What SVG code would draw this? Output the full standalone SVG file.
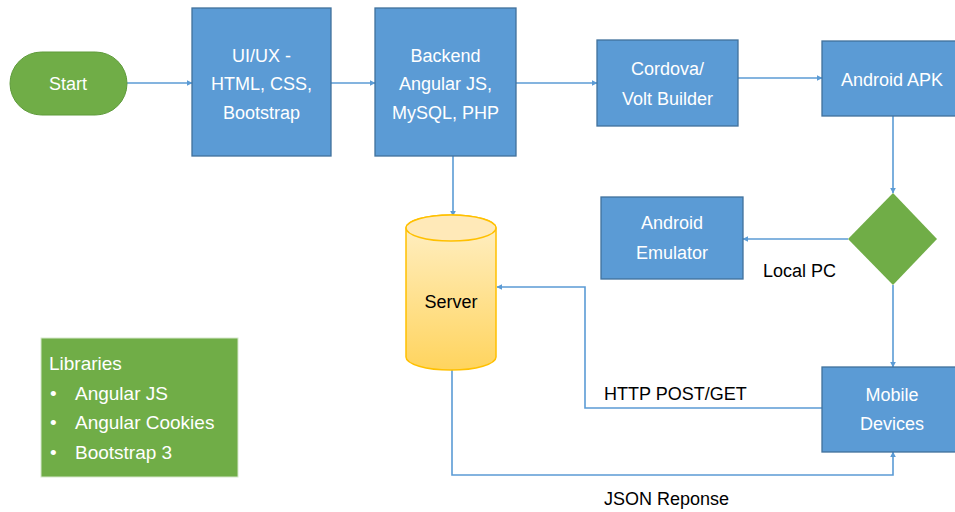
<svg xmlns="http://www.w3.org/2000/svg" width="955" height="512" viewBox="0 0 955 512">
<defs>
<marker id="ah" viewBox="0 0 10 10" refX="9" refY="5" markerWidth="6" markerHeight="6" markerUnits="userSpaceOnUse" orient="auto">
<path d="M0,0 L10,5 L0,10 z" fill="#5B9BD5"/>
</marker>
<linearGradient id="cyl" x1="0" y1="0" x2="0" y2="1">
<stop offset="0" stop-color="#FFF0C8"/>
<stop offset="1" stop-color="#FFD45E"/>
</linearGradient>
<style>
.box{fill:#5B9BD5;stroke:#41719C;stroke-width:1.3}
.wt{fill:#FFFFFF;font-family:"Liberation Sans",Arial,sans-serif;font-size:18px;text-anchor:middle}
.bt{fill:#000000;font-family:"Liberation Sans",Arial,sans-serif;font-size:18px}
.ln{fill:none;stroke:#5B9BD5;stroke-width:1.6;marker-end:url(#ah)}
</style>
</defs>
<rect width="955" height="512" fill="#FFFFFF"/>
<g id="connectors">
<path class="ln" d="M127,83 H192"/>
<path class="ln" d="M331,83 H375"/>
<path class="ln" d="M516,83 H597"/>
<path class="ln" d="M738,78 H822"/>
<path class="ln" d="M453,156 V216"/>
<path class="ln" d="M893,116 V193"/>
<path class="ln" d="M848,239 H743"/>
<path class="ln" d="M893,285 V367"/>
<path class="ln" d="M822,408 H585 V287 H497"/>
<path class="ln" d="M452,364 V475 H893 V452"/>
<text class="bt" x="763" y="277">Local PC</text>
<text class="bt" x="604" y="400">HTTP POST/GET</text>
<text class="bt" x="604" y="505">JSON Reponse</text>
</g>
<g id="start">
<rect x="10" y="52" width="117" height="63" rx="31.5" fill="#70AD47" stroke="#5E9B3A" stroke-width="1"/>
<text class="wt" x="68" y="90">Start</text>
</g>
<g id="uiux">
<rect class="box" x="192" y="8" width="139" height="148"/>
<text class="wt" x="261.5" y="62">UI/UX -</text>
<text class="wt" x="261.5" y="90">HTML, CSS,</text>
<text class="wt" x="261.5" y="119">Bootstrap</text>
</g>
<g id="backend">
<rect class="box" x="375" y="8" width="141" height="148"/>
<text class="wt" x="445.5" y="62">Backend</text>
<text class="wt" x="445.5" y="90">Angular JS,</text>
<text class="wt" x="445.5" y="119">MySQL, PHP</text>
</g>
<g id="cordova">
<rect class="box" x="597" y="40" width="141" height="86"/>
<text class="wt" x="667.5" y="75">Cordova/</text>
<text class="wt" x="667.5" y="105">Volt Builder</text>
</g>
<g id="apk">
<rect class="box" x="822" y="41" width="140" height="75"/>
<text class="wt" x="892" y="86">Android APK</text>
</g>
<g id="decision">
<path d="M893,193 L937,239 L893,285 L848,239 Z" fill="#70AD47"/>
</g>
<g id="emulator">
<rect class="box" x="601" y="197" width="142" height="82"/>
<text class="wt" x="672" y="229">Android</text>
<text class="wt" x="672" y="259">Emulator</text>
</g>
<g id="server">
<path d="M406,228 V357 A45,13 0 0 0 496,357 V228 A45,13 0 0 0 406,228 Z" fill="url(#cyl)" stroke="#FFC000" stroke-width="1.5"/>
<ellipse cx="451" cy="228" rx="45" ry="13" fill="#FFE9B8" stroke="#FFC000" stroke-width="1.5"/>
<text class="bt" x="451" y="308" text-anchor="middle">Server</text>
</g>
<g id="mobile">
<rect class="box" x="822" y="367" width="140" height="85"/>
<text class="wt" x="892" y="401">Mobile</text>
<text class="wt" x="892" y="430">Devices</text>
</g>
<g id="libraries">
<rect x="41" y="338" width="197" height="139" fill="#70AD47" stroke="#D6E7CB" stroke-width="1"/>
<g fill="#FFFFFF" font-family="Liberation Sans, Arial, sans-serif" font-size="19">
<text x="49" y="370">Libraries</text>
<text x="50" y="400">•</text>
<text x="75" y="400">Angular JS</text>
<text x="50" y="429">•</text>
<text x="75" y="429">Angular Cookies</text>
<text x="50" y="459">•</text>
<text x="75" y="459">Bootstrap 3</text>
</g>
</g>
</svg>
